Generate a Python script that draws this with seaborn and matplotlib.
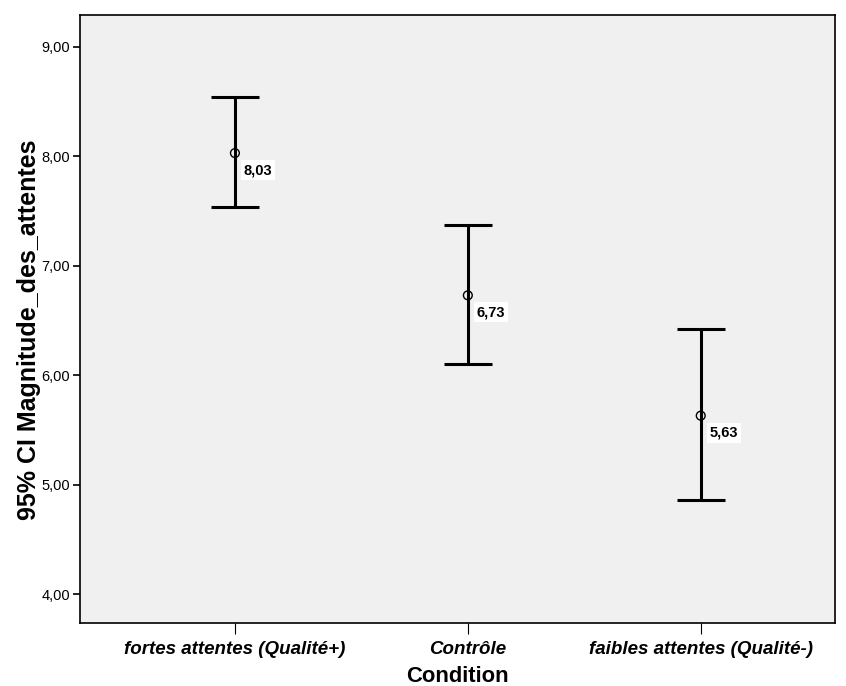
import numpy as np
import pandas as pd
import matplotlib
matplotlib.use("Agg")
import matplotlib.pyplot as plt
import seaborn as sns

# Données (moyennes et IC 95%)
conditions = ["fortes attentes (Qualité+)", "Contrôle", "faibles attentes (Qualité-)"]
moyennes = [8.03, 6.73, 5.63]
ic_bas = [7.54, 6.10, 4.86]
ic_haut = [8.54, 7.37, 6.42]
yticks = [4.0, 5.0, 6.0, 7.0, 8.0, 9.0]

sns.set_style("white")
plt.rcParams['font.family'] = ['Liberation Sans', 'DejaVu Sans']
plt.rcParams['text.color'] = 'black'
plt.rcParams['axes.labelcolor'] = 'black'
plt.rcParams['xtick.color'] = 'black'
plt.rcParams['ytick.color'] = 'black'

data = pd.DataFrame({"Condition": conditions, "moyenne": moyennes,
                     "bas": ic_bas, "haut": ic_haut})

fig = plt.figure(figsize=(8.46, 6.86), dpi=100)
ax = fig.add_axes([0.0946, 0.0918, 0.892, 0.886])
ax.set_facecolor("#f0f0f0")

pos = np.arange(len(data))
err = [data["moyenne"] - data["bas"], data["haut"] - data["moyenne"]]
ax.errorbar(pos, data["moyenne"], yerr=err, fmt="none", ecolor="black",
            elinewidth=2.2, capsize=17, capthick=2.2, zorder=2)
sns.scatterplot(data=data, x=pos, y="moyenne", ax=ax, marker="o", s=40,
                facecolor="none", edgecolor="black", linewidth=1.0, zorder=3)

# Étiquettes des moyennes
for x, m in zip(pos, data["moyenne"]):
    ax.annotate(f"{m:.2f}".replace(".", ","), (x, m), xytext=(9, -17),
                textcoords="offset pixels",
                ha="left", va="center", fontsize=10.5, fontweight="bold",
                bbox=dict(boxstyle="square,pad=0.2", fc="white", ec="none"),
                zorder=4)

ax.set_xlim(-0.665, 2.575)
ax.set_ylim(3.735, 9.29)
ax.set_xticks(pos)
ax.set_xticklabels(conditions, fontsize=13.5, fontstyle="italic", fontweight="bold")
ax.set_yticks(yticks)
ax.set_yticklabels([f"{v:.2f}".replace(".", ",") for v in yticks], fontsize=10.5)
ax.tick_params(axis="x", length=8, width=0.8, pad=5, bottom=True)
ax.tick_params(axis="y", length=5, width=1.2, pad=2, left=True)

for s in ax.spines.values():
    s.set_color("black")
    s.set_linewidth(1.2)

ax.set_xlabel("Condition", fontsize=15.8, fontweight="bold", labelpad=6)
ax.set_ylabel("95% CI Magnitude_des_attentes", fontsize=18, fontweight="bold")
ax.yaxis.set_label_coords(-0.0515, 0.482)

fig.savefig("out.png", dpi=100)
